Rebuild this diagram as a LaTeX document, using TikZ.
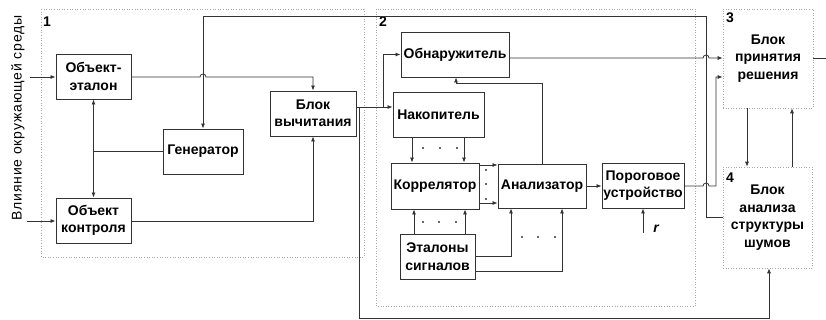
\documentclass[tikz,border=0pt]{standalone}
\usepackage{fontspec}
\setmainfont{Liberation Sans}
\usetikzlibrary{arrows.meta}
\definecolor{ln}{HTML}{333333}
\definecolor{grp}{HTML}{A8A8A8}
\tikzset{
  box/.style={draw=ln, line width=0.9pt, fill=white, align=center, inner sep=1pt,
    font=\fontsize{14}{17.5}\selectfont\bfseries},
  grpbox/.style={draw=grp, line width=0.6pt, dotted},
  blk/.style={draw=grp, line width=0.6pt, dotted, align=center, inner sep=1pt,
    font=\fontsize{14}{17.5}\selectfont\bfseries},
  arr/.style={draw=ln, line width=0.8pt, -{Latex[length=5pt,width=4pt]}},
  ln/.style={draw=ln, line width=0.8pt},
  num/.style={font=\fontsize{14}{14}\selectfont\bfseries, inner sep=0pt},
  dotm/.style={circle, fill=ln, inner sep=0pt, minimum size=2.4pt}
}
\begin{document}
\begin{tikzpicture}[x=1pt,y=-1pt]
\useasboundingbox (0,0) rectangle (826,320);
% groups
\draw[grpbox] (41,9) rectangle (364,257);
\draw[grpbox] (376,9) rectangle (695,306);
\node[num] (n1) at (47,22) {1};
\node[num] (n2) at (383,22) {2};
% side label
\node[rotate=90, inner sep=0pt, font=\fontsize{14}{14}\selectfont\addfontfeatures{LetterSpace=6}] (infl) at (18,118) {Влияние окружающей среды};
% boxes
\node[box, minimum width=75pt, minimum height=45pt] (oe) at (93.5,76.5) {Объект-\\эталон};
\node[box, minimum width=75pt, minimum height=45pt] (ok) at (93.5,220.5) {Объект\\контроля};
\node[box, minimum width=80pt, minimum height=45pt] (gen) at (203,151.5) {Генератор};
\node[box, minimum width=86pt, minimum height=45pt] (bv) at (313,113.5) {Блок\\вычитания};
\node[box, minimum width=108pt, minimum height=45pt] (obn) at (455,54.5) {Обнаружитель};
\node[box, minimum width=91pt, minimum height=45pt] (nak) at (438.5,114.5) {Накопитель};
\node[box, minimum width=88pt, minimum height=46pt] (kor) at (435,186) {Коррелятор};
\node[box, minimum width=88pt, minimum height=44pt] (an) at (542,186) {Анализатор};
\node[box, minimum width=82pt, minimum height=45pt] (por) at (643,185.5) {Пороговое\\устройство};
\node[box, minimum width=75pt, minimum height=45pt] (et) at (437.5,256.5) {Эталоны\\сигналов};
\node[blk, minimum width=90pt, minimum height=99pt] (b3) at (768,58.5) {Блок\\принятия\\решения};
\node[blk, minimum width=89pt, minimum height=101pt] (b4) at (767.5,217.5) {Блок\\анализа\\структуры\\шумов};
\node[num, anchor=north west] (n3) at (726,13) {3};
\node[num, anchor=north west] (n4) at (726,173) {4};
% inputs
\coordinate (in1) at (30,77);
\coordinate (in2) at (27,221);
\draw[arr] (in1) -- (oe.west |- in1);
\draw[arr] (in2) -- (ok.west |- in2);
% generator
\coordinate (jg) at (93.5,151.5);
\draw[ln] (gen.west) -- (jg);
\draw[arr] (jg) -- (oe.south);
\draw[arr] (jg) -- (ok.north);
% feedback from block 4 to generator
\coordinate (fb1) at (706,217);
\coordinate (fb2) at (706,16);
\coordinate (fb3) at (203,16);
\draw[arr] (b4.west |- fb1) -- (fb1) -- (fb2) -- (fb3) -- (gen.north);
% etalon -> subtract
\draw[arr] (oe.east |- 0,77) -- (200,77) arc (180:360:3) -- (313,77) -- (bv.north);
\draw[arr] (ok.east |- in2) -- (313,221) -- (bv.south);
% subtract outputs
\coordinate (jb) at (383,107);
\coordinate (jv) at (359,107);
\draw[arr] (bv.east |- jb) -- (nak.west |- jb);
\draw[arr] (jb) |- (obn.west);
\draw[arr] (jv) -- (359,318) -- (769,318) -- (b4.south -| 769,0);
% detector -> block 3
\draw[arr] (obn.east |- 0,58) -- (703,58) arc (180:360:3) -- (b3.west |- 0,58);
% analyzer -> detector
\draw[arr] (an.north) |- (456,83.5) -- (obn.south -| 456,0);
% accumulator -> correlator
\draw[arr] (nak.south -| 412,0) -- (kor.north -| 412,0);
\draw[arr] (nak.south -| 464,0) -- (kor.north -| 464,0);
\node[dotm] (d1) at (423,148) {};
\node[dotm] (d2) at (440,148) {};
\node[dotm] (d3) at (457,148) {};
% correlator -> analyzer
\draw[arr] (kor.east |- 0,165) -- (an.west |- 0,165);
\draw[arr] (kor.east |- 0,203) -- (an.west |- 0,203);
\node[dotm] (d4) at (486,170) {};
\node[dotm] (d5) at (486,184) {};
\node[dotm] (d6) at (486,199) {};
% etalons -> correlator
\draw[arr] (et.north -| 414,0) -- (kor.south -| 414,0);
\draw[arr] (et.north -| 465,0) -- (kor.south -| 465,0);
\node[dotm] (d7) at (423,222) {};
\node[dotm] (d8) at (439,222) {};
\node[dotm] (d9) at (456,222) {};
% etalons -> analyzer
\draw[arr] (et.east |- 0,256) -| (an.south -| 511,0);
\draw[arr] (et.east |- 0,271) -| (an.south -| 562,0);
\node[dotm] (d10) at (522,237) {};
\node[dotm] (d11) at (538,237) {};
\node[dotm] (d12) at (555,237) {};
% analyzer -> threshold
\draw[arr] (an.east) -- (por.west |- an.east);
% r
\coordinate (rin) at (643,233);
\draw[arr] (rin) -- (por.south);
\node[font=\fontsize{14}{14}\selectfont\bfseries\itshape, inner sep=0pt] (rl) at (656,229) {r};
% threshold -> block 3
\draw[arr] (por.east |- 0,186) -- (703,186) arc (180:360:3) -- (716,186) -- (716,77) -- (b3.west |- 0,77);
% block 3 <-> block 4
\draw[arr] (b3.south -| 747,0) -- (b4.north -| 747,0);
\draw[arr] (b4.north -| 792,0) -- (b3.south -| 792,0);
% output
\coordinate (out) at (826,58);
\draw[ln] (b3.east |- out) -- (out);
\end{tikzpicture}
\end{document}
